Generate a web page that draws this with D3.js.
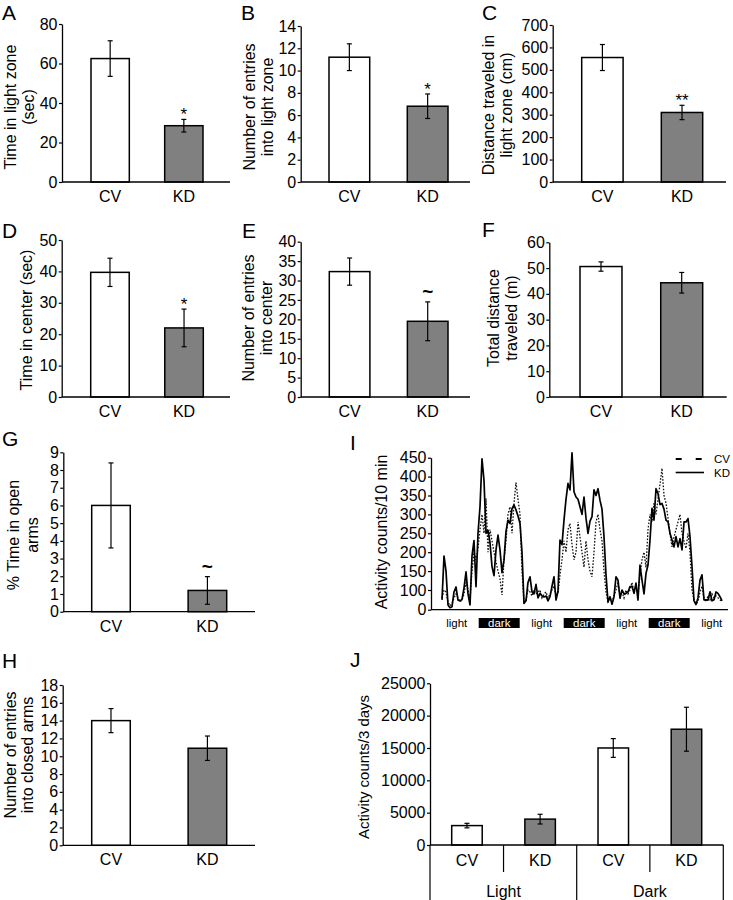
<!DOCTYPE html>
<html><head><meta charset="utf-8">
<script src="https://cdn.jsdelivr.net/npm/d3@7"></script>
<style>
body{margin:0;background:#fff}
text{font-family:"Liberation Sans",Arial,Helvetica,sans-serif;fill:#000}
</style>
</head><body>
<svg id="c" width="733" height="900"></svg>
<script>
// ---------------- DATA ----------------
const groups = ["CV", "KD"];

const aMean = [62.5, 28.5], aSem = [9.0, 3.2];
const bMean = [11.2, 6.8],  bSem = [1.2, 1.1];
const cMean = [555, 310],   cSem = [58, 32];
const dMean = [39.7, 22.0], dSem = [4.5, 6.0];
const eMean = [32.3, 19.5], eSem = [3.5, 5.0];
const fMean = [50.6, 44.3], fSem = [1.8, 4.0];
const gMean = [6.0, 1.2],   gSem = [2.4, 0.78];
const hMean = [14.0, 10.9], hSem = [1.35, 1.37];

const aTicks = [0, 20, 40, 60, 80];
const bTicks = [0, 2, 4, 6, 8, 10, 12, 14];
const cTicks = [0, 100, 200, 300, 400, 500, 600, 700];
const dTicks = [0, 10, 20, 30, 40, 50];
const eTicks = [0, 5, 10, 15, 20, 25, 30, 35, 40];
const fTicks = [0, 10, 20, 30, 40, 50, 60];
const gTicks = [0, 1, 2, 3, 4, 5, 6, 7, 8, 9];
const hTicks = [0, 2, 4, 6, 8, 10, 12, 14, 16, 18];

// Panel I: activity counts / 10 min (two series sampled along 3 days)
const iTicks = [0, 100, 150, 200, 250, 300, 350, 400, 450];
const phaseLabels = ["light", "dark", "light", "dark", "light", "dark", "light"];
const kdActivity = [
  50,190,150,24,10,15,90,108,49,45,
  52,105,148,80,24,190,231,109,250,320,
  447,390,250,258,225,162,138,206,245,206,
  146,179,255,285,276,315,325,312,296,276,
  200,32,45,120,135,90,80,115,60,83,
  70,65,70,45,66,110,135,49,95,232,
  220,285,340,382,365,463,360,346,340,320,
  300,346,290,250,282,294,365,350,368,337,
  314,241,140,40,66,28,66,135,126,58,
  100,80,83,90,109,110,83,118,49,166,
  126,80,144,166,232,316,285,368,355,326,
  329,314,285,280,250,232,214,241,214,236,
  206,280,280,289,241,162,45,26,60,126,
  140,50,50,49,91,45,50,90,83,66,
  45];
const cvActivity = [
  60,100,90,40,20,30,60,80,60,40,
  50,80,120,100,50,150,200,180,210,260,
  300,250,342,200,260,230,200,175,150,130,
  75,180,230,300,320,250,330,384,340,300,
  150,40,50,100,90,70,100,80,90,100,
  60,80,90,60,80,100,110,70,80,140,
  180,230,200,260,276,220,180,200,280,240,
  200,160,230,180,150,135,200,280,300,260,
  230,150,90,40,60,40,70,100,120,70,
  90,60,100,80,100,120,90,110,70,140,
  180,200,160,260,300,280,330,300,340,380,
  422,350,330,290,250,214,240,260,280,300,
  250,230,210,250,200,100,50,30,40,90,
  110,60,40,70,50,80,60,70,60,50,
  40];

// Panel J
const jPhase = ["Light", "Light", "Dark", "Dark"];
const jGroup = ["CV", "KD", "CV", "KD"];
const jMean = [3000, 4000, 15000, 17900];
const jSem  = [350, 750, 1450, 3400];
const jTicks = [0, 5000, 10000, 15000, 20000, 25000];

// ---------------- DRAWING ----------------
const svg = d3.select("#c");
const FILL = {CV: "#ffffff", KD: "#808080"};
const TICK_FS = 16, CAT_FS = 16;

function letter(t, x, y) {
  svg.append("text").attr("x", x).attr("y", y).attr("font-size", 21).text(t);
}
function yTitle(lines, xs, cy, fs) {
  lines.forEach((l, i) => {
    svg.append("text")
      .attr("transform", `translate(${xs[i]},${cy}) rotate(-90)`)
      .attr("text-anchor", "middle").attr("dy", "0.35em")
      .attr("font-size", fs).text(l);
  });
}
function styleAxis(sel, fs) {
  sel.select(".domain").attr("stroke", "#000").attr("stroke-width", 1.3);
  sel.selectAll(".tick line").attr("stroke", "#000").attr("stroke-width", 1.2);
  sel.selectAll(".tick text").attr("font-size", fs).attr("fill", "#000")
     .attr("font-family", '"Liberation Sans",Arial,sans-serif');
}

function barPanel(o) {
  const g = svg.append("g");
  const y = d3.scaleLinear().domain([0, o.ticks[o.ticks.length - 1]]).range([o.y0, o.yTop]);
  const x = d3.scaleBand().domain(o.cats).range([o.barL, o.barR]).paddingInner(o.pad).paddingOuter(0);
  const data = o.cats.map((c, i) => ({c, grp: o.grp[i], m: o.mean[i], s: o.sem[i], sig: o.sig ? o.sig[i] : ""}));
  g.selectAll("rect.bar").data(data).enter().append("rect")
    .attr("x", d => x(d.c)).attr("width", x.bandwidth())
    .attr("y", d => y(d.m)).attr("height", d => y(0) - y(d.m))
    .attr("fill", d => FILL[d.grp]).attr("stroke", "#000").attr("stroke-width", 1.5);
  const eb = g.selectAll("g.eb").data(data).enter().append("g")
    .attr("transform", d => `translate(${x(d.c) + x.bandwidth() / 2},0)`);
  eb.append("line").attr("y1", d => y(d.m + d.s)).attr("y2", d => y(d.m - d.s))
    .attr("stroke", "#000").attr("stroke-width", 1.2);
  eb.append("line").attr("x1", -2.5).attr("x2", 2.5).attr("y1", d => y(d.m + d.s)).attr("y2", d => y(d.m + d.s))
    .attr("stroke", "#000").attr("stroke-width", 1.2);
  eb.append("line").attr("x1", -2.5).attr("x2", 2.5).attr("y1", d => y(d.m - d.s)).attr("y2", d => y(d.m - d.s))
    .attr("stroke", "#000").attr("stroke-width", 1.2);
  eb.filter(d => d.sig).append("text")
    .attr("text-anchor", "middle")
    .attr("y", d => y(d.m + d.s) + (d.sig === "~" ? -4 : 1))
    .attr("font-size", d => d.sig === "~" ? 19 : 17)
    .attr("font-weight", d => d.sig === "~" ? "bold" : "normal")
    .text(d => d.sig);
  g.append("line").attr("x1", o.axisX).attr("x2", o.xEnd).attr("y1", y(0)).attr("y2", y(0))
    .attr("stroke", "#000").attr("stroke-width", 1.3);
  const ax = g.append("g").attr("transform", `translate(${o.axisX},0)`)
    .call(d3.axisLeft(y).tickValues(o.ticks).tickSize(3).tickSizeOuter(0).tickPadding(1.5).tickFormat(d3.format("d")));
  styleAxis(ax, TICK_FS);
  if (o.labels !== false) {
    g.selectAll("text.cat").data(data).enter().append("text")
      .attr("x", d => x(d.c) + x.bandwidth() / 2).attr("y", y(0) + 20)
      .attr("text-anchor", "middle").attr("font-size", CAT_FS).text(d => d.grp);
  }
  return {x, y, g};
}

// Panel A
letter("A", 2, 20);
barPanel({cats: groups, grp: groups, mean: aMean, sem: aSem, sig: ["", "*"], ticks: aTicks,
  axisX: 62, yTop: 24, y0: 182, xEnd: 230, barL: 91, barR: 203, pad: 0.48});
yTitle(["Time in light zone", "(sec)"], [10, 28.5], 107, 16);

// Panel B
letter("B", 241, 20);
barPanel({cats: groups, grp: groups, mean: bMean, sem: bSem, sig: ["", "*"], ticks: bTicks,
  axisX: 300.7, yTop: 26, y0: 182, xEnd: 470, barL: 329, barR: 448, pad: 0.48});
yTitle(["Number of entries", "into light zone"], [249.5, 267], 107, 16);

// Panel C
letter("C", 482, 20);
barPanel({cats: groups, grp: groups, mean: cMean, sem: cSem, sig: ["", "**"], ticks: cTicks,
  axisX: 552.7, yTop: 25, y0: 182, xEnd: 726, barL: 581.7, barR: 702.7, pad: 0.48});
yTitle(["Distance traveled in", "light zone (cm)"], [488.5, 506.5], 105, 16);

// Panel D
letter("D", 2, 238);
barPanel({cats: groups, grp: groups, mean: dMean, sem: dSem, sig: ["", "*"], ticks: dTicks,
  axisX: 61.7, yTop: 240, y0: 397, xEnd: 230, barL: 90.7, barR: 203.3, pad: 0.48});
yTitle(["Time in center (sec)"], [26], 320, 16);

// Panel E
letter("E", 242, 238);
barPanel({cats: groups, grp: groups, mean: eMean, sem: eSem, sig: ["", "~"], ticks: eTicks,
  axisX: 300.7, yTop: 241.7, y0: 397, xEnd: 470, barL: 329.3, barR: 448, pad: 0.48});
yTitle(["Number of entries", "into center"], [248.5, 266.5], 318, 16);

// Panel F
letter("F", 482, 237);
barPanel({cats: groups, grp: groups, mean: fMean, sem: fSem, ticks: fTicks,
  axisX: 549.3, yTop: 242.3, y0: 397, xEnd: 726.7, barL: 580, barR: 702.7, pad: 0.48});
yTitle(["Total distance", "traveled (m)"], [493.5, 511.5], 318, 16);

// Panel G
letter("G", 2, 446);
barPanel({cats: groups, grp: groups, mean: gMean, sem: gSem, sig: ["", "~"], ticks: gTicks,
  axisX: 63.3, yTop: 452.3, y0: 611.7, xEnd: 255, barL: 91.7, barR: 226.7, pad: 0.6});
yTitle(["% Time in open", "arms"], [13.7, 32.5], 535, 16);

// Panel H
letter("H", 2, 668);
barPanel({cats: groups, grp: groups, mean: hMean, sem: hSem, ticks: hTicks,
  axisX: 62.7, yTop: 685, y0: 845.3, xEnd: 255, barL: 91.7, barR: 226.7, pad: 0.6});
yTitle(["Number of entries", "into closed arms"], [10, 27.5], 755, 16);

// Panel I
letter("I", 350, 450);
(function () {
  const g = svg.append("g");
  const y = d3.scaleLinear().domain([0, 100, 450]).range([609.7, 590, 457.7]);
  const x = d3.scaleLinear().domain([0, kdActivity.length - 1]).range([442, 722]);
  const line = d3.line().x((d, i) => x(i)).y(d => y(d));
  g.append("path").datum(cvActivity).attr("d", line).attr("fill", "none")
    .attr("stroke", "#111").attr("stroke-width", 1.3).attr("stroke-dasharray", "1.6,1.6");
  g.append("path").datum(kdActivity).attr("d", line).attr("fill", "none")
    .attr("stroke", "#000").attr("stroke-width", 1.7).attr("stroke-linejoin", "round");
  g.append("line").attr("x1", 431).attr("x2", 728).attr("y1", y(0)).attr("y2", y(0))
    .attr("stroke", "#000").attr("stroke-width", 1.3);
  const ax = g.append("g").attr("transform", "translate(431,0)")
    .call(d3.axisLeft(y).tickValues(iTicks).tickSize(3).tickSizeOuter(0).tickPadding(1.5).tickFormat(d3.format("d")));
  styleAxis(ax, TICK_FS);
  const px = d3.scalePoint().domain(d3.range(phaseLabels.length)).range([456.7, 711.7]);
  const ph = g.selectAll("g.ph").data(phaseLabels).enter().append("g")
    .attr("transform", (d, i) => `translate(${px(i)},0)`);
  ph.filter(d => d === "dark").append("rect").attr("x", -20.5).attr("width", 41)
    .attr("y", 618).attr("height", 10).attr("fill", "#000");
  ph.append("text").attr("text-anchor", "middle").attr("y", 627).attr("font-size", 11.5)
    .style("fill", d => d === "dark" ? "#fff" : "#000").text(d => d);
  const lg = g.append("g");
  lg.append("line").attr("x1", 675.7).attr("x2", 701.7).attr("y1", 459).attr("y2", 459)
    .attr("stroke", "#000").attr("stroke-width", 2).attr("stroke-dasharray", "6,14");
  lg.append("line").attr("x1", 675.7).attr("x2", 704).attr("y1", 472.5).attr("y2", 472.5)
    .attr("stroke", "#000").attr("stroke-width", 1.6);
  lg.append("text").attr("x", 714).attr("y", 463).attr("font-size", 11.5).text("CV");
  lg.append("text").attr("x", 714).attr("y", 476.8).attr("font-size", 11.5).text("KD");
})();
yTitle(["Activity counts/10 min"], [381], 532, 16);

// Panel J
letter("J", 350, 667);
(function () {
  const cats = jMean.map((d, i) => i);
  const P = barPanel({cats, grp: jGroup, mean: jMean, sem: jSem, ticks: jTicks, labels: false,
    axisX: 430, yTop: 683.3, y0: 845, xEnd: 723.3, barL: 451.7, barR: 701.7, pad: 0.583});
  const x = P.x, g = P.g, y0 = 845;
  const cx = i => x(i) + x.bandwidth() / 2;
  g.selectAll("text.grp").data(cats).enter().append("text")
    .attr("x", i => cx(i)).attr("y", y0 + 20.5).attr("text-anchor", "middle")
    .attr("font-size", CAT_FS).text(i => jGroup[i]);
  const seps = [];
  for (let i = 0; i < cats.length - 1; i++) {
    seps.push({x: (cx(i) + cx(i + 1)) / 2, long: jPhase[i] !== jPhase[i + 1]});
  }
  seps.push({x: 430, long: true}, {x: 723.3, long: true});
  g.selectAll("line.sep").data(seps).enter().append("line")
    .attr("x1", d => d.x).attr("x2", d => d.x).attr("y1", y0)
    .attr("y2", d => d.long ? 900 : y0 + 27)
    .attr("stroke", "#000").attr("stroke-width", 1.2);
  const phases = Array.from(new Set(jPhase));
  g.selectAll("text.phase").data(phases).enter().append("text")
    .attr("x", p => d3.mean(cats.filter(i => jPhase[i] === p), i => cx(i)))
    .attr("y", 896.5).attr("text-anchor", "middle").attr("font-size", CAT_FS).text(p => p);
})();
yTitle(["Activity counts/3 days"], [363.5], 767, 15);
</script>
</body></html>
